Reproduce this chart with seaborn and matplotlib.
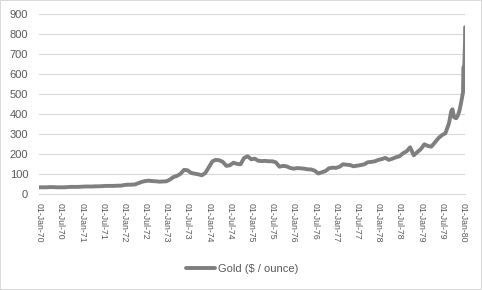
import matplotlib
matplotlib.use("Agg")
import matplotlib.pyplot as plt
import seaborn as sns
import pandas as pd

# Monthly gold price ($/oz), Jan-1970 .. Dec-1979
monthly_start = "1970-01-01"
gold_1970 = [35, 35, 35, 36, 36, 35, 35, 35, 36, 37, 37, 37]
gold_1971 = [38, 39, 39, 39, 40, 40, 41, 42, 42, 42, 43, 43]
gold_1972 = [46, 48, 48, 49, 55, 62, 66, 68, 66, 65, 63, 64]
gold_1973 = [65, 74, 86, 92, 102, 122, 120, 107, 103, 100, 95, 106]
gold_1974 = [135, 165, 172, 170, 162, 142, 145, 158, 152, 150, 182, 190]
gold_1975 = [175, 178, 168, 166, 167, 165, 165, 160, 138, 142, 140, 132]
gold_1976 = [128, 131, 130, 128, 125, 124, 118, 104, 110, 116, 130, 133]
gold_1977 = [132, 138, 150, 148, 146, 140, 143, 146, 150, 160, 162, 165]
gold_1978 = [172, 176, 182, 172, 178, 185, 190, 205, 215, 235, 195, 210]
gold_1979 = [226, 250, 242, 238, 258, 280, 295, 305, 355, 425, 380, 420]

# Extra points around the late-1979 / early-1980 surge
extra_dates = ["1979-09-20", "1979-10-15", "1979-11-15", "1979-12-15",
               "1979-12-31", "1980-01-03", "1980-01-10", "1980-01-17", "1980-01-18"]
extra_values = [415, 385, 392, 460, 512, 634, 630, 760, 835]

xtick_labels = ["01-Jan-70", "01-Jul-70", "01-Jan-71", "01-Jul-71", "01-Jan-72",
                "01-Jul-72", "01-Jan-73", "01-Jul-73", "01-Jan-74", "01-Jul-74",
                "01-Jan-75", "01-Jul-75", "01-Jan-76", "01-Jul-76", "01-Jan-77",
                "01-Jul-77", "01-Jan-78", "01-Jul-78", "01-Jan-79", "01-Jul-79",
                "01-Jan-80"]
yticks = [0, 100, 200, 300, 400, 500, 600, 700, 800, 900]
series_name = "Gold ($ / ounce)"

monthly_vals = (gold_1970 + gold_1971 + gold_1972 + gold_1973 + gold_1974 +
                gold_1975 + gold_1976 + gold_1977 + gold_1978 + gold_1979)
monthly_dates = pd.date_range(monthly_start, periods=len(monthly_vals), freq="MS")
df = pd.DataFrame({"date": list(monthly_dates) + list(pd.to_datetime(extra_dates)),
                   "price": monthly_vals + extra_values})
df = df.sort_values("date").reset_index(drop=True)
df["series"] = series_name

sns.set_style("white")
plt.rcParams["font.family"] = ["Liberation Sans", "DejaVu Sans"]

fig = plt.figure(figsize=(4.82, 2.90), dpi=100)
fig.patch.set_facecolor("white")
fig.patch.set_edgecolor("#d9d9d9")
fig.patch.set_linewidth(1.2)
ax = fig.add_axes([0.0815, 0.330, 0.8835, 0.621])

sns.lineplot(data=df, x="date", y="price", hue="series", palette=["#7f7f7f"],
             linewidth=2.8, ax=ax, legend=False)

ax.set_xlim(pd.Timestamp("1970-01-01"), df["date"].max())
ax.set_ylim(0, 900)
ax.set_yticks(yticks)
ax.set_yticklabels([str(v) for v in yticks], fontsize=8, color="#595959")
tick_dates = pd.to_datetime(xtick_labels, format="%d-%b-%y")
ax.set_xticks(tick_dates)
ax.set_xticklabels(xtick_labels, rotation=-90, fontsize=6.3, color="#595959",
                   va="top", ha="center")
ax.grid(axis="y", color="#d9d9d9", linewidth=0.8)
ax.grid(axis="x", visible=False)
for s in ["top", "right", "left"]:
    ax.spines[s].set_visible(False)
ax.spines["bottom"].set_color("#d9d9d9")
ax.spines["bottom"].set_linewidth(0.8)
ax.tick_params(axis="x", length=3, color="#d9d9d9", width=0.8, pad=3)
ax.tick_params(axis="y", length=0, pad=8)
ax.set_xlabel("")
ax.set_ylabel("")

handle = plt.Line2D([], [], color="#7f7f7f", linewidth=2.8)
fig.legend([handle], [series_name], loc="center", bbox_to_anchor=(0.502, 0.072),
           frameon=False, fontsize=8, handlelength=2.6, handletextpad=0.3,
           labelcolor="#595959")

fig.savefig("out.png", dpi=100, facecolor="white", edgecolor="#d9d9d9")
